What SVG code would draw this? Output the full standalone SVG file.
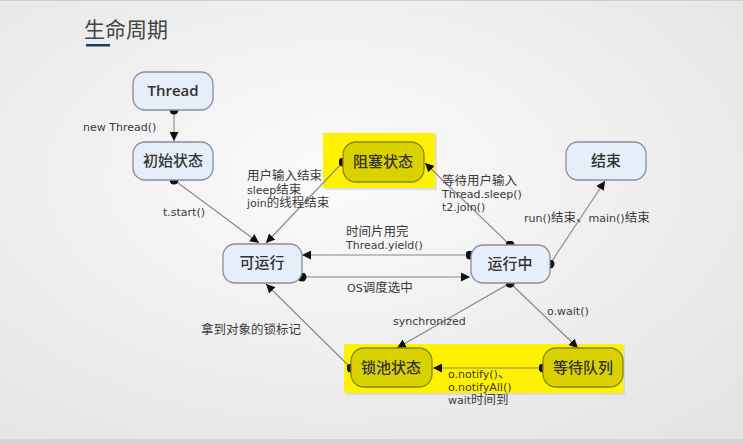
<svg xmlns="http://www.w3.org/2000/svg" width="743" height="443" viewBox="0 0 743 443">
<defs>
<radialGradient id="bg" cx="0.45" cy="0.4" r="0.75">
<stop offset="0" stop-color="#fbfbfb"/>
<stop offset="1" stop-color="#e4e4e4"/>
</radialGradient>
<marker id="arr" viewBox="0 0 10 10" refX="10" refY="5" markerWidth="9" markerHeight="9" markerUnits="userSpaceOnUse" orient="auto">
<path d="M0,0 L10,5 L0,10 z" fill="#111"/>
</marker>
<marker id="dot" viewBox="0 0 10 10" refX="5" refY="5" markerWidth="9" markerHeight="9" markerUnits="userSpaceOnUse">
<circle cx="5" cy="5" r="5" fill="#111"/>
</marker>
</defs>
<style>
.node{fill:#e6eef9;stroke:#8a8f99;stroke-width:1.3}
.ynode{fill:#d9d200;stroke:#8c8700;stroke-width:1.3}
.ybox{fill:#fff200}
.nt{font-family:"Noto Sans CJK SC",sans-serif;font-size:15px;font-weight:500;fill:#333;text-anchor:middle}
.nl{font-family:"Open Sans",sans-serif;font-weight:600}
.lb{font-family:"DejaVu Sans","Noto Sans CJK SC",sans-serif;font-size:11px;fill:#3a3a3a}
.cj{font-family:"Noto Sans CJK SC",sans-serif;font-size:12.5px}
.c{fill:none;stroke:#888;stroke-width:1.1;marker-start:url(#dot);marker-end:url(#arr)}
</style>
<rect x="0" y="0" width="743" height="443" fill="url(#bg)"/>
<rect x="0" y="439" width="743" height="4" fill="#d6d6d6"/>
<line x1="0" y1="0.5" x2="743" y2="0.5" stroke="#d0d0d0"/>
<g id="title">
<text x="84" y="37" font-family="Noto Sans CJK SC,sans-serif" font-size="21" fill="#444">生命周期</text>
<rect x="86" y="44" width="24" height="2.5" fill="#1f3a5f"/>
</g>
<g id="yellow-boxes">
<rect x="325" y="135" width="112" height="55" fill="#cfcfcf" opacity="0.6"/>
<rect class="ybox" x="323" y="133" width="112" height="55"/>
<rect x="346" y="346" width="279" height="49" fill="#cfcfcf" opacity="0.6"/>
<rect class="ybox" x="344" y="344" width="279" height="49"/>
</g>
<g id="connectors">
<line class="c" x1="174" y1="110" x2="174" y2="141"/>
<line class="c" x1="174" y1="180" x2="259" y2="243"/>
<line class="c" x1="343" y1="162" x2="266" y2="243"/>
<line class="c" x1="510" y1="245" x2="425" y2="163"/>
<line class="c" x1="550" y1="264" x2="605" y2="181"/>
<line class="c" x1="470" y1="255" x2="302" y2="255"/>
<line class="c" x1="302" y1="277" x2="470" y2="277"/>
<line class="c" x1="510" y1="283" x2="397" y2="348"/>
<line class="c" x1="510" y1="283" x2="578" y2="348"/>
<line class="c" x1="543" y1="368" x2="433" y2="368"/>
<line class="c" x1="351" y1="368" x2="266" y2="284"/>
</g>
<g id="n-thread"><rect class="node" x="133" y="72" width="80" height="38" rx="12"/><text class="nt nl" x="173" y="96">Thread</text></g>
<g id="n-init"><rect class="node" x="133" y="142" width="80" height="38" rx="12"/><text class="nt" x="173" y="166">初始状态</text></g>
<g id="n-blocked"><rect class="ynode" x="343" y="142" width="81" height="40" rx="13"/><text class="nt" x="383" y="167">阻塞状态</text></g>
<g id="n-end"><rect class="node" x="566" y="142" width="80" height="38" rx="12"/><text class="nt" x="606" y="166">结束</text></g>
<g id="n-runnable"><rect class="node" x="223" y="244" width="79" height="39" rx="12"/><text class="nt" x="262" y="268">可运行</text></g>
<g id="n-running"><rect class="node" x="471" y="245" width="79" height="38" rx="12"/><text class="nt" x="510" y="269">运行中</text></g>
<g id="n-lockpool"><rect class="ynode" x="351" y="348" width="81" height="39" rx="13"/><text class="nt" x="391" y="373">锁池状态</text></g>
<g id="n-waitq"><rect class="ynode" x="543" y="348" width="80" height="39" rx="13"/><text class="nt" x="583" y="373">等待队列</text></g>
<g id="labels">
<text class="lb" x="83" y="131">new Thread()</text>
<text class="lb" x="163" y="216">t.start()</text>
<text class="lb" x="247" y="180"><tspan class="cj">用户输入结束</tspan><tspan x="247" dy="13.5">sleep</tspan><tspan class="cj">结束</tspan><tspan x="247" dy="13">join</tspan><tspan class="cj">的线程结束</tspan></text>
<text class="lb" x="442" y="185"><tspan class="cj">等待用户输入</tspan><tspan x="442" dy="13">Thread.sleep()</tspan><tspan x="442" dy="13">t2.join()</tspan></text>
<text class="lb" x="524" y="222">run()<tspan class="cj">结束、</tspan>main()<tspan class="cj">结束</tspan></text>
<text class="lb" x="346" y="236"><tspan class="cj">时间片用完</tspan><tspan x="346" dy="13">Thread.yield()</tspan></text>
<text class="lb" x="347" y="292">OS<tspan class="cj">调度选中</tspan></text>
<text class="lb" x="393" y="325">synchronized</text>
<text class="lb" x="547" y="315">o.wait()</text>
<text class="lb" x="201" y="334"><tspan class="cj">拿到对象的锁标记</tspan></text>
<text class="lb" x="448" y="378">o.notify()<tspan class="cj">、</tspan><tspan x="448" dy="13">o.notifyAll()</tspan><tspan x="448" dy="13">wait</tspan><tspan class="cj">时间到</tspan></text>
</g>
</svg>
